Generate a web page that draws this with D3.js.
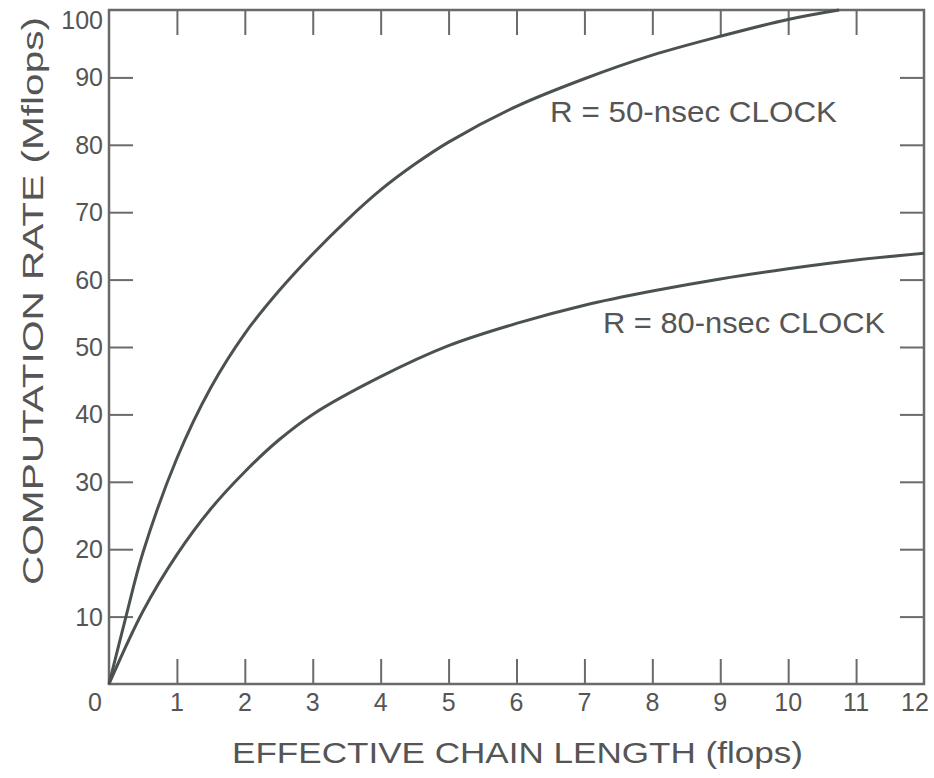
<!DOCTYPE html>
<meta charset="utf-8">
<head>
  <style>
    body { margin: 0; background: #fff; }
    svg { display: block; }
    text { font-family: "Liberation Sans", Arial, sans-serif; fill: #555; }
    .frame { fill: none; stroke: #6a6a6a; stroke-width: 2.5px; }
    .tick line { stroke: #6a6a6a; stroke-width: 2px; }
    .domain { display: none; }
    .curve { fill: none; stroke: #4b5151; stroke-width: 3px; }
  </style>
</head>
<body>
  <script src="https://d3js.org/d3.v7.min.js"></script>
  <script>
    // chain length (flops) vs computation rate (Mflops)
    const clock50X = [0, 0.25, 0.5, 1, 1.5, 2, 2.5, 3, 3.5, 4, 4.5, 5, 6, 7, 8, 9, 10, 10.75];
    const clock50Y = [0, 10, 19.5, 33.5, 44, 52, 58.3, 63.8, 68.8, 73.3, 77.1, 80.4, 85.7, 89.8, 93.3, 96.1, 98.6, 100];
    const clock80X = [0, 0.5, 1, 1.5, 2, 2.5, 3, 4, 5, 6, 7, 8, 9, 10, 11, 12];
    const clock80Y = [0, 10.8, 19.2, 26, 31.5, 36.2, 40, 45.6, 50.2, 53.5, 56.2, 58.3, 60.1, 61.6, 62.9, 63.9];

    const xTicks = [0, 1, 2, 3, 4, 5, 6, 7, 8, 9, 10, 11, 12];
    const yTicks = [10, 20, 30, 40, 50, 60, 70, 80, 90, 100];
    const seriesLabels = ["R = 50-nsec CLOCK", "R = 80-nsec CLOCK"];

    const W = 934, H = 778;
    const m = { left: 109, right: 924, top: 10, bottom: 684 };

    const x = d3.scaleLinear().domain([0, 12]).range([m.left, m.right]);
    const y = d3.scaleLinear().domain([0, 100]).range([m.bottom, m.top]);

    const svg = d3.select("body").append("svg")
      .attr("width", W).attr("height", H);

    const inner = xTicks.slice(1, -1);
    const innerY = yTicks.slice(0, -1);

    svg.append("g").attr("transform", `translate(0,${m.bottom})`)
      .call(d3.axisBottom(x).tickValues(inner).tickSizeInner(-25).tickSizeOuter(0).tickFormat(""));
    svg.append("g").attr("transform", `translate(0,${m.top})`)
      .call(d3.axisTop(x).tickValues(inner).tickSizeInner(-25).tickSizeOuter(0).tickFormat(""));
    svg.append("g").attr("transform", `translate(${m.left},0)`)
      .call(d3.axisLeft(y).tickValues(innerY).tickSizeInner(-24).tickSizeOuter(0).tickFormat(""));
    svg.append("g").attr("transform", `translate(${m.right},0)`)
      .call(d3.axisRight(y).tickValues(innerY).tickSizeInner(-24).tickSizeOuter(0).tickFormat(""));

    svg.append("rect").attr("class", "frame")
      .attr("x", m.left).attr("y", m.top)
      .attr("width", m.right - m.left).attr("height", m.bottom - m.top);

    // tick labels
    svg.append("g").selectAll("text").data(xTicks).join("text")
      .attr("x", d => x(d) + (d === 0 ? -14 : d === 12 ? -9 : 0))
      .attr("y", 711)
      .attr("text-anchor", "middle")
      .style("font-size", "25px")
      .text(d => d);

    svg.append("g").selectAll("text").data(yTicks).join("text")
      .attr("x", 103)
      .attr("y", d => y(d) + (d === 100 ? 19 : 9))
      .attr("text-anchor", "end")
      .style("font-size", "25px")
      .text(d => d);

    // curves
    const line = d3.line()
      .x(d => x(d[0]))
      .y(d => y(d[1]))
      .curve(d3.curveCatmullRom.alpha(0.5));

    svg.append("path").attr("class", "curve")
      .attr("d", line(d3.zip(clock50X, clock50Y)));
    svg.append("path").attr("class", "curve")
      .attr("d", line(d3.zip(clock80X, clock80Y)));

    // curve labels
    svg.append("text")
      .attr("x", 550).attr("y", 122)
      .attr("textLength", 287).attr("lengthAdjust", "spacingAndGlyphs")
      .style("font-size", "30px")
      .text(seriesLabels[0]);
    svg.append("text")
      .attr("x", 603).attr("y", 333)
      .attr("textLength", 282).attr("lengthAdjust", "spacingAndGlyphs")
      .style("font-size", "30px")
      .text(seriesLabels[1]);

    // axis titles
    svg.append("text")
      .attr("x", 232).attr("y", 763)
      .attr("textLength", 571).attr("lengthAdjust", "spacingAndGlyphs")
      .style("font-size", "30px")
      .text("EFFECTIVE CHAIN LENGTH (flops)");

    svg.append("text")
      .attr("transform", "translate(43,585) rotate(-90)")
      .attr("textLength", 568).attr("lengthAdjust", "spacingAndGlyphs")
      .style("font-size", "30px")
      .text("COMPUTATION RATE (Mflops)");
  </script>
</body>
